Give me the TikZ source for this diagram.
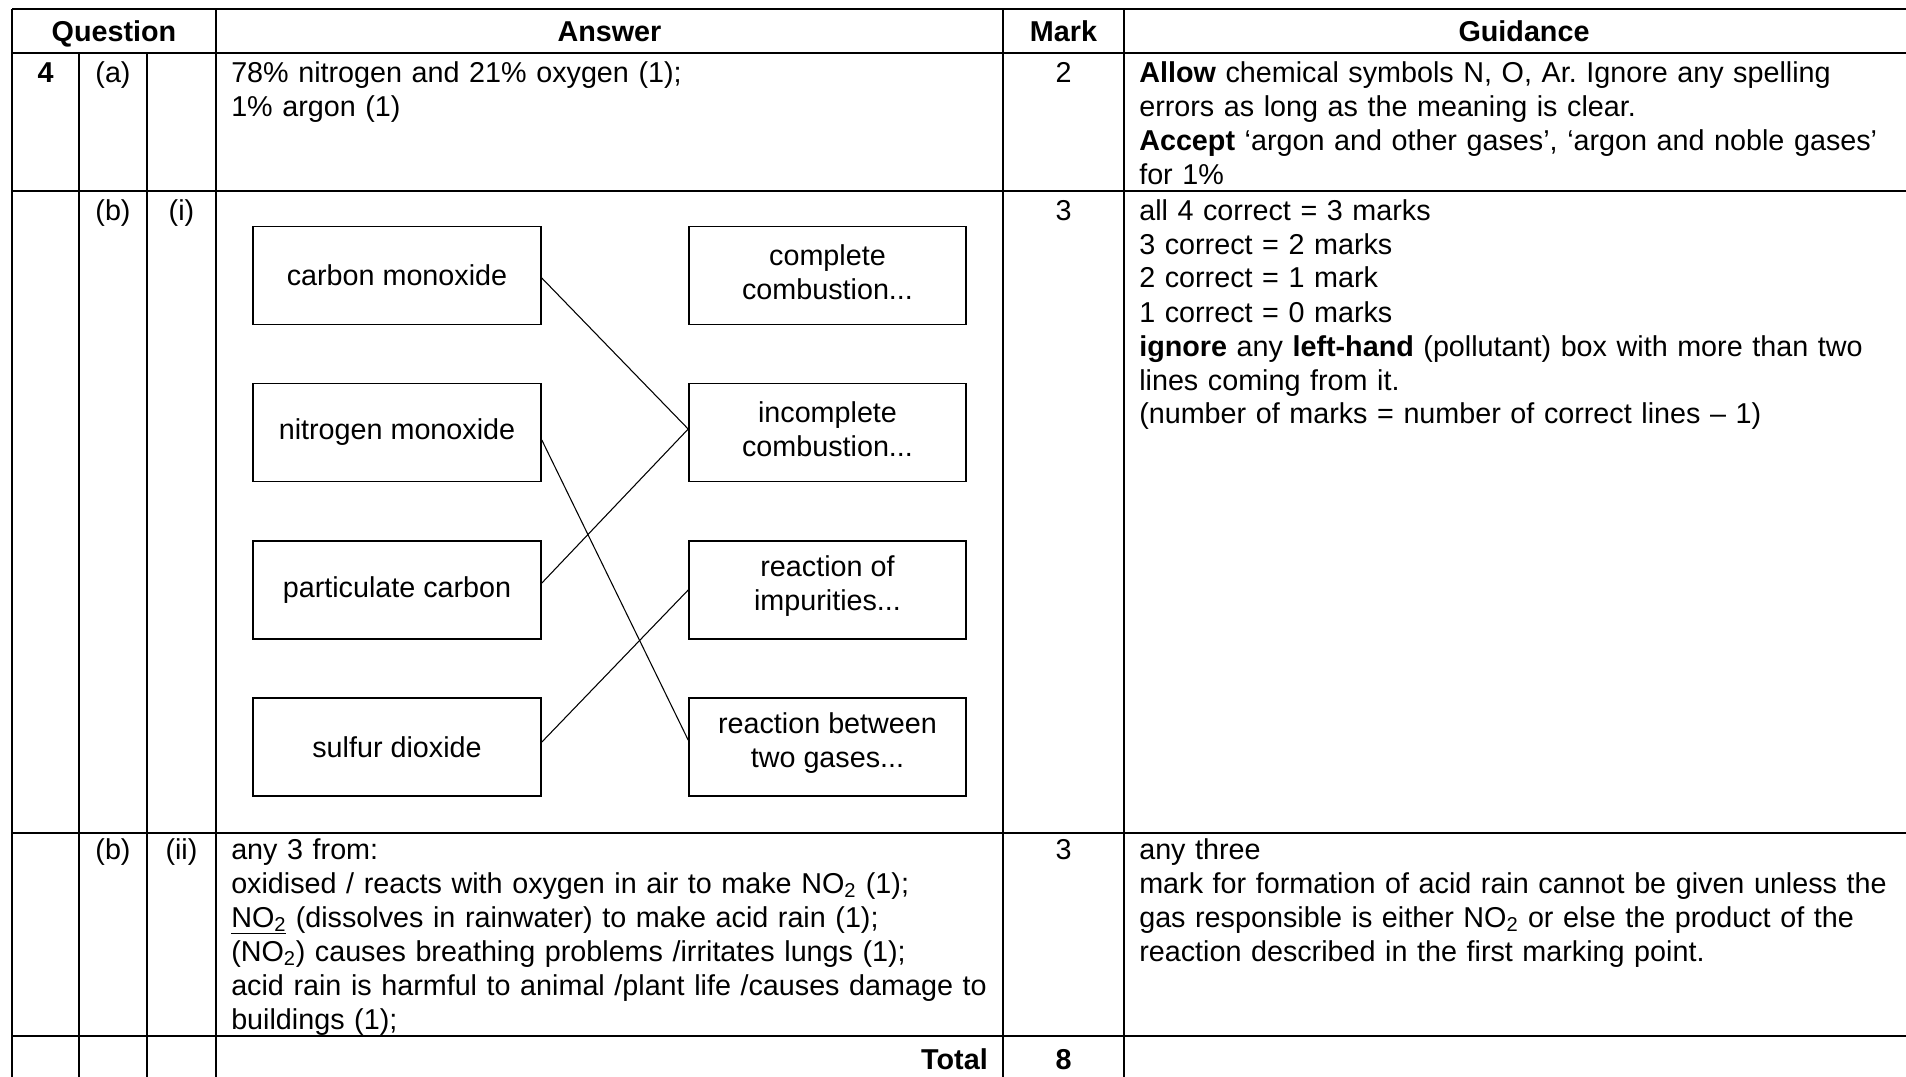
\documentclass[tikz,border=0pt]{standalone}
\usepackage{fontspec}
\setmainfont{Liberation Sans}
\newcommand\fsz{\fontsize{21.55pt}{25.5pt}\selectfont}
\frenchspacing
\begin{document}
\begin{tikzpicture}[x=0.75pt,y=-0.75pt,
  every node/.style={font=\fsz},
  rule/.style={line width=1.5pt},
  txt/.style={anchor=base west,align=left,inner sep=0pt,text width=600pt},
  ctr/.style={anchor=base,inner sep=0pt},
  hdr/.style={anchor=base,inner sep=0pt,font=\fsz\bfseries},
  pbox/.style={draw,line width=1.2pt,minimum width=216pt,minimum height=73.5pt,inner sep=0pt,align=center},
  qbox/.style={draw,line width=1.2pt,minimum width=207.75pt,minimum height=73.5pt,inner sep=0pt},
  btxt/.style={inner sep=0pt,align=center},
  conn/.style={line width=0.8pt}]
\useasboundingbox (0,0) rectangle (1906,1077);
\fill[white] (0,0) rectangle (1906,1077);
% table rules
\draw[rule] (12,9) -- (1906,9);
\draw[rule] (12,53) -- (1906,53);
\draw[rule] (12,191) -- (1906,191);
\draw[rule] (12,833) -- (1906,833);
\draw[rule] (12,1036) -- (1906,1036);
\draw[rule] (12,9) -- (12,1077);
\draw[rule] (79,53) -- (79,1077);
\draw[rule] (147,53) -- (147,1077);
\draw[rule] (216,9) -- (216,1077);
\draw[rule] (1003,9) -- (1003,1077);
\draw[rule] (1124,9) -- (1124,1077);
% header
\node[hdr] (hq) at (114,42) {Question};
\node[hdr] (ha) at (609.5,42) {Answer};
\node[hdr] (hm) at (1063.5,42) {Mark};
\node[hdr] (hg) at (1524,42) {Guidance};
% row (a)
\node[hdr] (q4) at (45.5,83) {4};
\node[ctr] (qa) at (113,83) {(a)};
\node[txt] (ansa) at (231,83) {78\% nitrogen and 21\% oxygen (1);\\1\% argon (1)};
\node[ctr] (ma) at (1063.5,83) {2};
\node[txt] (ga) at (1139,83) {\textbf{Allow} chemical symbols N, O, Ar. Ignore any spelling\\errors as long as the meaning is clear.\\\textbf{Accept} `argon and other gases', `argon and noble gases'\\for 1\%};
% row (b)(i)
\node[ctr] (qb1) at (113,220) {(b)};
\node[ctr] (qi) at (181.5,220) {(i)};
\node[ctr] (mb1) at (1063.5,220) {3};
\node[txt] (gb1) at (1139,220) {all 4 correct = 3 marks\\3 correct = 2 marks\\2 correct = 1 mark\\1 correct = 0 marks\\\textbf{ignore} any \textbf{left-hand} (pollutant) box with more than two\\lines coming from it.\\(number of marks = number of correct lines -- 1)};
% matching boxes
\node[pbox] (co) at (397,275.5) {carbon monoxide};
\node[pbox] (nm) at (397,432.5) {nitrogen monoxide};
\node[pbox] (pc) at (397,590) {particulate carbon};
\node[pbox] (sd) at (397,747) {sulfur dioxide};
\node[qbox] (cc) at (827.5,275.5) {};
\node[qbox] (ic) at (827.5,432.5) {};
\node[qbox] (ri) at (827.5,590) {};
\node[qbox] (rb) at (827.5,747) {};
\node[btxt] (cct) at ([yshift=2.6pt]cc.center) {complete\\combustion...};
\node[btxt] (ict) at ([yshift=2.6pt]ic.center) {incomplete\\combustion...};
\node[btxt] (rit) at ([yshift=2.6pt]ri.center) {reaction of\\impurities...};
\node[btxt] (rbt) at ([yshift=2.6pt]rb.center) {reaction between\\two gases...};
\draw[conn] ([yshift=-1.9pt]co.east) -- ([yshift=2.6pt]ic.west);
\draw[conn] ([yshift=-5.6pt]nm.east) -- ([yshift=5.2pt]rb.west);
\draw[conn] ([yshift=5.2pt]pc.east) -- ([yshift=2.6pt]ic.west);
\draw[conn] ([yshift=3.7pt]sd.east) -- (ri.west);
% row (b)(ii)
\node[ctr] (qb2) at (113,859) {(b)};
\node[ctr] (qii) at (181.5,859) {(ii)};
\node[txt] (ansb2) at (231,859) {any 3 from:\\oxidised / reacts with oxygen in air to make NO\textsubscript{2} (1);\\\underline{NO\textsubscript{2}} (dissolves in rainwater) to make acid rain (1);\\(NO\textsubscript{2}) causes breathing problems /irritates lungs (1);\\acid rain is harmful to animal /plant life /causes damage to\\buildings (1);};
\node[ctr] (mb2) at (1063.5,859) {3};
\node[txt] (gb2) at (1139,859) {any three\\mark for formation of acid rain cannot be given unless the\\gas responsible is either NO\textsubscript{2} or else the product of the\\reaction described in the first marking point.};
% total row
\node[hdr,anchor=base east] (tot) at (988,1069) {Total};
\node[hdr] (m8) at (1063.5,1069) {8};
\end{tikzpicture}
\end{document}
